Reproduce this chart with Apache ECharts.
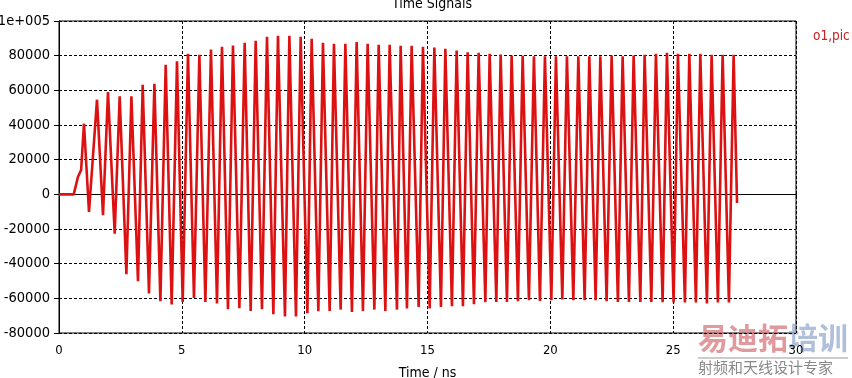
<!DOCTYPE html>
<html>
<head>
<meta charset="utf-8">
<script src="https://cdn.jsdelivr.net/npm/echarts@6/dist/echarts.min.js"></script>
<style>
  html, body { margin: 0; padding: 0; background: #fff; }
  #chart { width: 852px; height: 378px; }
</style>
</head>
<body>
<div id="chart"></div>
<script>
// Czas w ns, wartości sygnału
const leadTimes = [0, 0.6, 0.77, 0.9];
const leadValues = [0, 0, 10000, 14000];

const peakTimes = [
  1.017, 1.547, 1.994, 2.47, 2.947, 3.407, 3.883, 4.343, 4.803, 5.25,
  5.714, 6.186, 6.634, 7.082, 7.558, 8.006, 8.466, 8.913, 9.377, 9.837,
  10.285, 10.745, 11.192, 11.656, 12.116, 12.564, 13.012, 13.459, 13.907, 14.355,
  14.815, 15.279, 15.726, 16.186, 16.634, 17.082, 17.53, 17.977, 18.425, 18.873,
  19.333, 19.78, 20.228, 20.676, 21.14, 21.587, 22.035, 22.495, 22.943, 23.391,
  23.838, 24.298, 24.746, 25.193, 25.657, 26.105, 26.565, 27.013, 27.461,
];
const peakValues = [
  40750, 54600, 59000, 56500, 56500, 63200, 63800, 74700, 76700, 81100,
  80500, 83600, 85100, 85900, 87400, 88600, 90900, 91500, 91500, 90900,
  89700, 87400, 86900, 86900, 87800, 86900, 86300, 86300, 85700, 85700,
  85100, 84700, 84000, 83000, 82000, 81700, 81100, 80700, 80100, 79900,
  79700, 79700, 79700, 79700, 79700, 79700, 79700, 80100, 79700, 80100,
  80500, 81100, 81700, 81100, 81100, 81100, 80500, 80500, 80500,
];

const troughTimes = [
  1.221, 1.791, 2.267, 2.743, 3.215, 3.663, 4.127, 4.587, 5.035, 5.494,
  5.958, 6.431, 6.878, 7.342, 7.802, 8.262, 8.726, 9.198, 9.646, 10.11,
  10.557, 11.017, 11.465, 11.925, 12.373, 12.837, 13.284, 13.757, 14.164, 14.64,
  15.088, 15.548, 15.995, 16.443, 16.891, 17.355, 17.802, 18.234, 18.681, 19.129,
  19.577, 20.041, 20.488, 20.936, 21.396, 21.844, 22.291, 22.751, 23.199, 23.663,
  24.111, 24.571, 25.018, 25.478, 25.926, 26.374, 26.821, 27.269,
];
const troughValues = [
  -10200, -12100, -22650, -46100, -50100, -57200, -61700, -63600, -62100, -59800,
  -62100, -63000, -66300, -65700, -67300, -66300, -69200, -70500, -70500, -68600,
  -67400, -67300, -66500, -67800, -67300, -66500, -67300, -66500, -65900, -65000,
  -65900, -65000, -64600, -64600, -63400, -62200, -62100, -62100, -61700, -61100,
  -61500, -61100, -60700, -61100, -61100, -61100, -61700, -62100, -62100, -62100,
  -62100, -62200, -62400, -62400, -62400, -63000, -62400, -62400,
];

const tailTimes = [27.6];
const tailValues = [-5000];

const xTicks = [0, 5, 10, 15, 20, 25, 30];
const seriesName = "o1,pic";

const toPairs = (ts, vs) => ts.map((t, i) => [t, vs[i]]);
const signal = [
  ...toPairs(leadTimes, leadValues),
  ...toPairs(peakTimes, peakValues),
  ...toPairs(troughTimes, troughValues),
  ...toPairs(tailTimes, tailValues),
].sort((a, b) => a[0] - b[0]);

const labelFont = "'DejaVu Sans Condensed', 'DejaVu Sans', sans-serif";
const gridLine = { show: true, lineStyle: { color: "#000", type: [3, 2], width: 1 } };

const chart = echarts.init(document.getElementById("chart"), null, { renderer: "canvas" });

const option = {
  animation: false,
  backgroundColor: "#fff",
  title: {
    text: "Time Signals",
    left: 427,
    textAlign: "center",
    top: -8,
    textStyle: { fontFamily: labelFont, fontSize: 14, fontWeight: "normal", color: "#000" },
  },
  legend: {
    data: [seriesName],
    left: 803,
    top: 24,
    icon: "none",
    itemWidth: 0,
    textStyle: { fontFamily: labelFont, fontSize: 13.5, color: "#cc2222" },
  },
  grid: {
    left: 59,
    right: 56,
    top: 21,
    bottom: 45,
    containLabel: false,
    outerBoundsMode: "none",
    show: true,
    borderColor: "#000",
    borderWidth: 1,
  },
  xAxis: {
    type: "value",
    min: xTicks[0],
    max: xTicks[xTicks.length - 1],
    interval: 5,
    name: "Time / ns",
    nameLocation: "middle",
    nameGap: 33,
    nameTextStyle: { fontFamily: labelFont, fontSize: 14, color: "#000" },
    axisLine: { lineStyle: { color: "#000", width: 1 } },
    axisTick: { show: true, length: 4, lineStyle: { color: "#000" } },
    axisLabel: { fontFamily: labelFont, fontSize: 13, color: "#000", margin: 11 },
    splitLine: gridLine,
  },
  yAxis: {
    type: "value",
    min: -80000,
    max: 100000,
    interval: 20000,
    axisLine: { show: true, lineStyle: { color: "#000", width: 1 } },
    axisTick: { show: true, length: 5, lineStyle: { color: "#000" } },
    axisLabel: {
      fontFamily: labelFont,
      fontSize: 14.5,
      color: "#000",
      margin: 9,
      formatter: (v) => (v === 100000 ? "1e+005" : String(v)),
    },
    splitLine: gridLine,
  },
  series: [
    {
      name: seriesName,
      type: "line",
      data: signal,
      showSymbol: false,
      smooth: false,
      lineStyle: { color: "#dd1111", width: 2.6 },
      itemStyle: { color: "#dd1111" },
    },
  ],
  graphic: [
    {
      type: "text",
      left: 698,
      top: 323,
      z: 0,
      style: {
        text: "易迪拓",
        font: "bold 30px 'Noto Sans CJK SC'",
        fill: "rgba(214,120,125,0.75)",
      },
    },
    {
      type: "text",
      left: 788,
      top: 323,
      z: 0,
      style: {
        text: "培训",
        font: "bold 30px 'Noto Sans CJK SC'",
        fill: "rgba(150,170,205,0.75)",
      },
    },
    {
      type: "rect",
      shape: { x: 698, y: 357, width: 150, height: 2 },
      z: 0,
      style: { fill: "rgba(170,170,170,0.6)" },
    },
    {
      type: "text",
      left: 698,
      top: 360,
      z: 0,
      style: {
        text: "射频和天线设计专家",
        font: "15px 'Noto Sans CJK SC'",
        fill: "#888",
      },
    },
  ],
};

chart.setOption(option);
</script>
</body>
</html>
